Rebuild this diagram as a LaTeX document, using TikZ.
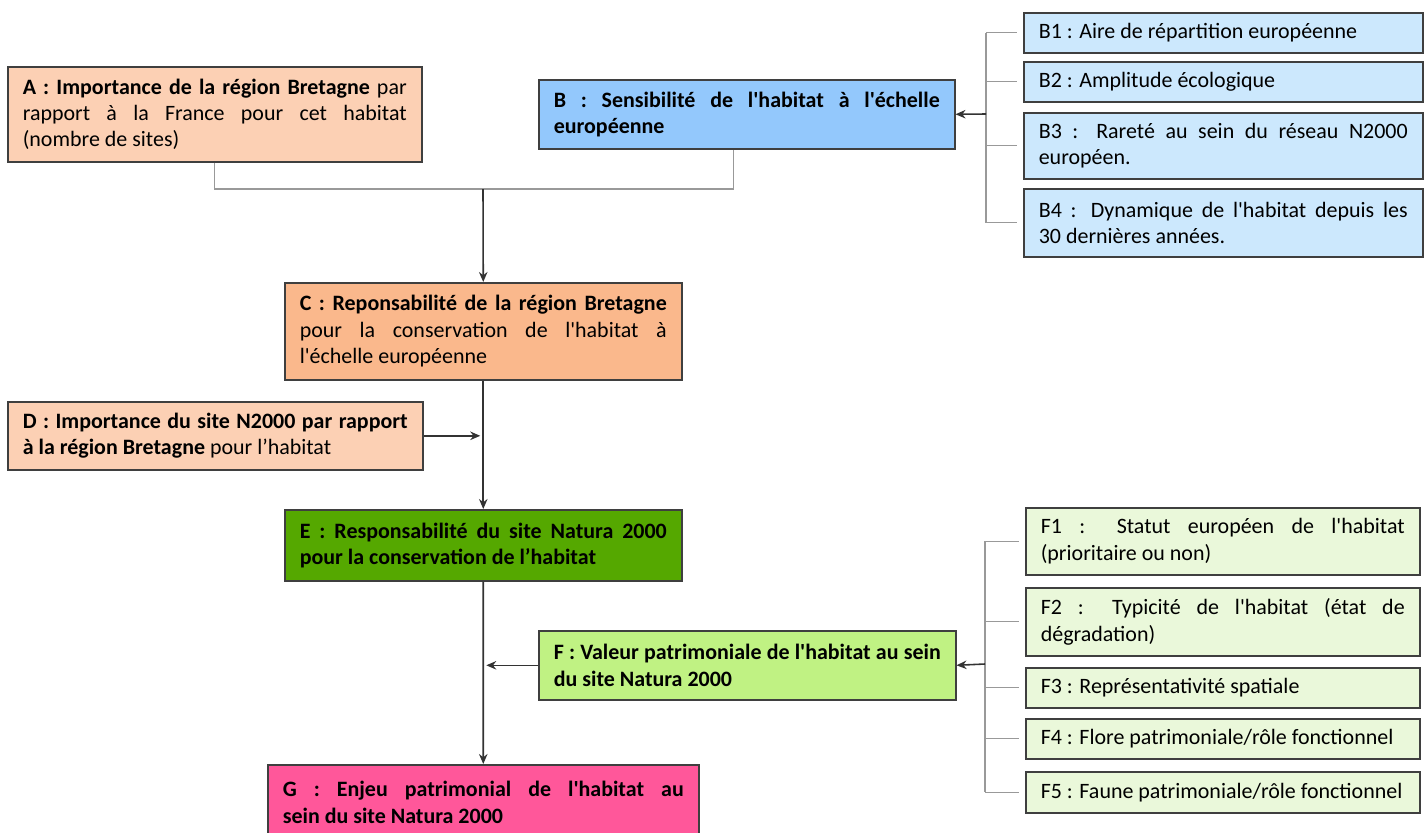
\documentclass[tikz,border=0pt]{standalone}
\usepackage{fontspec}
\setmainfont{Carlito}[Ligatures=TeXOff]
\usepackage{xcolor}
\definecolor{enjeuPeach}{HTML}{FCD0B4}
\definecolor{enjeuOrange}{HTML}{FAB88C}
\definecolor{enjeuBlue}{HTML}{93C8FC}
\definecolor{enjeuBlueLight}{HTML}{CCE8FD}
\definecolor{enjeuGreen}{HTML}{55A800}
\definecolor{enjeuLime}{HTML}{C0F283}
\definecolor{enjeuLimeLight}{HTML}{EAF8DA}
\definecolor{enjeuPink}{HTML}{FF579A}
\definecolor{enjeuBorder}{HTML}{3F3F3F}
\usetikzlibrary{arrows.meta}
\hyphenpenalty=10000
\exhyphenpenalty=10000

\begin{document}
\begin{tikzpicture}[x=0.02cm, y=-0.02cm, >={Stealth[length=0.2cm, width=0.17cm]},
    critbox/.style={draw=enjeuBorder, line width=0.9pt, anchor=north west,
        inner xsep=0.3cm, inner ysep=0pt, align=justify,
        font=\fontsize{12.5}{15}\selectfont},
    mainlink/.style={draw=black!80, line width=0.9pt},
    sublink/.style={draw=gray!80, line width=0.7pt}]

    \clip (0,0) rectangle (1426,832);

    % --- Left column: A, C, D, E, G ---
    \node[critbox, fill=enjeuPeach, text width=7.68cm, minimum height=1.9cm] (A) at (7,66)
        {\textbf{A : Importance de la région Bretagne} par\linebreak rapport à la France pour cet habitat\linebreak (nombre de sites)};
    \node[critbox, fill=enjeuBlue, text width=7.72cm, minimum height=1.38cm] (B) at (538,79)
        {\textbf{B : Sensibilité de l'habitat à l'échelle\linebreak européenne}};
    \node[critbox, fill=enjeuOrange, text width=7.34cm, minimum height=1.94cm] (C) at (284,282)
        {\textbf{C : Reponsabilité de la région Bretagne}\linebreak pour la conservation de l'habitat à\linebreak l'échelle européenne};
    \node[critbox, fill=enjeuPeach, text width=7.7cm, minimum height=1.36cm] (D) at (7,401)
        {\textbf{D : Importance du site N2000 par rapport\linebreak à la région Bretagne} pour l’habitat};
    \node[critbox, fill=enjeuGreen, text width=7.34cm, minimum height=1.42cm] (E) at (284,509)
        {\textbf{E : Responsabilité du site Natura 2000\linebreak pour la conservation de l’habitat}};
    \node[critbox, fill=enjeuLime, text width=7.74cm, minimum height=1.38cm] (F) at (538,630)
        {\textbf{F : Valeur patrimoniale de l'habitat au sein\linebreak du site Natura 2000}};
    \node[critbox, fill=enjeuPink, text width=8.02cm, minimum height=1.5cm] (G) at (267,764)
        {\textbf{G : Enjeu patrimonial de l'habitat au\linebreak sein du site Natura 2000}};

    % --- Sub-criteria of B ---
    \node[critbox, fill=enjeuBlueLight, text width=7.38cm, minimum height=0.8cm] (B1) at (1023,12)
        {B1 : Aire de répartition européenne};
    \node[critbox, fill=enjeuBlueLight, text width=7.38cm, minimum height=0.8cm] (B2) at (1023,61)
        {B2 : Amplitude écologique};
    \node[critbox, fill=enjeuBlueLight, text width=7.38cm, minimum height=1.32cm] (B3) at (1023,112)
        {B3 : Rareté au sein du réseau N2000\linebreak européen.};
    \node[critbox, fill=enjeuBlueLight, text width=7.38cm, minimum height=1.36cm] (B4) at (1023,188)
        {B4 : Dynamique de l'habitat depuis les\linebreak 30 dernières années.};

    % --- Sub-criteria of F ---
    \node[critbox, fill=enjeuLimeLight, text width=7.28cm, minimum height=1.34cm] (F1) at (1025,507)
        {F1 : Statut européen de l'habitat\linebreak (prioritaire ou non)};
    \node[critbox, fill=enjeuLimeLight, text width=7.28cm, minimum height=1.36cm] (F2) at (1025,587)
        {F2 : Typicité de l'habitat (état de\linebreak dégradation)};
    \node[critbox, fill=enjeuLimeLight, text width=7.28cm, minimum height=0.8cm] (F3) at (1025,667)
        {F3 : Représentativité spatiale};
    \node[critbox, fill=enjeuLimeLight, text width=7.28cm, minimum height=0.8cm] (F4) at (1025,718)
        {F4 : Flore patrimoniale/rôle fonctionnel};
    \node[critbox, fill=enjeuLimeLight, text width=7.28cm, minimum height=0.82cm] (F5) at (1025,771)
        {F5 : Faune patrimoniale/rôle fonctionnel};

    % --- Connectors ---
    \coordinate (ABjoin) at (483,189);
    \draw[sublink] (A.south) |- (ABjoin) -| ([xshift=-0.26cm]B.south);
    \draw[mainlink, ->] (ABjoin) -- (C.north);
    \draw[mainlink, ->] (C.south) -- (E.north);
    \draw[mainlink, ->] (D.east) -- ([xshift=-0.06cm]C.south |- D.east);
    \draw[mainlink, ->] (E.south) -- (G.north);
    \draw[mainlink, ->] (F.west) -- ([xshift=0.06cm]E.south |- F.west);

    % bracket B1-B4
    \coordinate (Bspine) at (986,114);
    \draw[sublink] (Bspine |- B1.west) -- (Bspine |- B4.west);
    \draw[sublink, shorten >=0.12cm] (Bspine |- B1.west) -- (B1.west);
    \draw[sublink, shorten >=0.12cm] (Bspine |- B2.west) -- (B2.west);
    \draw[sublink, shorten >=0.12cm] (Bspine |- B3.west) -- (B3.west);
    \draw[sublink, shorten >=0.12cm] (Bspine |- B4.west) -- (B4.west);
    \draw[mainlink, ->] (Bspine) -- (B.east);

    % bracket F1-F5
    \coordinate (Fspine) at (985,664);
    \draw[sublink] (Fspine |- F1.west) -- (Fspine |- F5.west);
    \draw[sublink, shorten >=0.12cm] (Fspine |- F1.west) -- (F1.west);
    \draw[sublink, shorten >=0.12cm] (Fspine |- F2.west) -- (F2.west);
    \draw[sublink, shorten >=0.12cm] (Fspine |- F3.west) -- (F3.west);
    \draw[sublink, shorten >=0.12cm] (Fspine |- F4.west) -- (F4.west);
    \draw[sublink, shorten >=0.12cm] (Fspine |- F5.west) -- (F5.west);
    \draw[mainlink, ->] (Fspine) -- (F.east);

\end{tikzpicture}
\end{document}
